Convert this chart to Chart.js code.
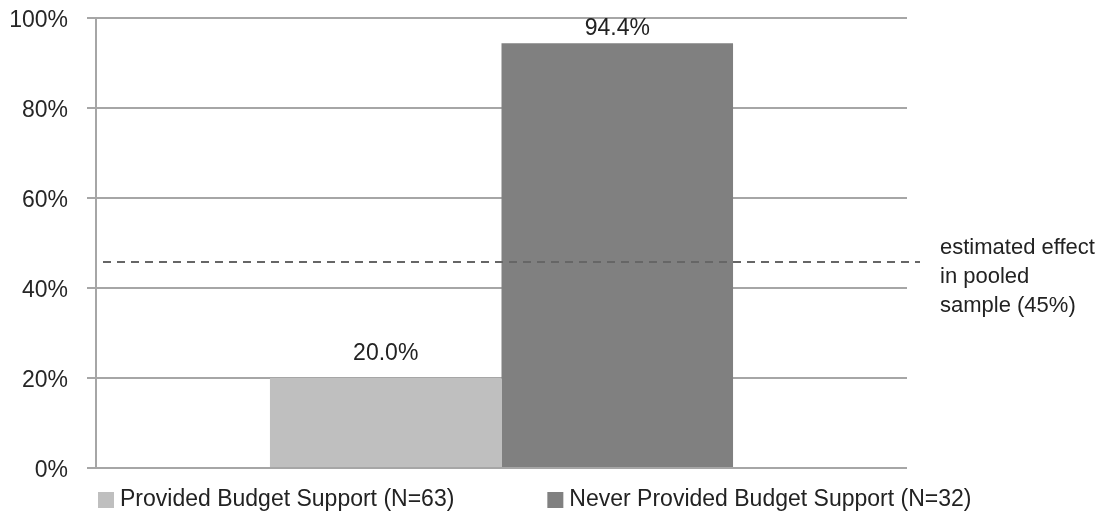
<!DOCTYPE html>
<html>
<head>
<meta charset="utf-8">
<script src="https://cdn.jsdelivr.net/npm/chart.js@4"></script>
<style>
  html, body { margin: 0; padding: 0; background: #fff; }
  #wrap { width: 1104px; height: 521px; }
</style>
</head>
<body>
<div id="wrap"><canvas id="chart"></canvas></div>
<script>
// Data
const categories = [''];
const seriesNames = ['Provided Budget Support (N=63)', 'Never Provided Budget Support (N=32)'];
const providedValues = [20.0];
const neverValues = [94.4];
const pooledEffect = [45.8];
const pooledText = ['estimated effect', 'in pooled', 'sample (45%)'];
const yTicks = [0, 20, 40, 60, 80, 100];

const FONT = "'Liberation Sans', Arial, sans-serif";

// Value labels above each bar
const barLabels = {
    id: 'barLabels',
    afterDatasetsDraw(chart) {
        const ctx = chart.ctx;
        ctx.save();
        ctx.font = '23px ' + FONT;
        ctx.fillStyle = '#222';
        ctx.textAlign = 'center';
        ctx.textBaseline = 'alphabetic';
        chart.data.datasets.forEach((ds, i) => {
            const meta = chart.getDatasetMeta(i);
            meta.data.forEach((bar, j) => {
                ctx.fillText(ds.data[j].toFixed(1) + '%', bar.x, bar.y - ds.labelOffset);
            });
        });
        ctx.restore();
    }
};

// Dashed pooled-effect line with its note on the right
const pooledLine = {
    id: 'pooledLine',
    afterDatasetsDraw(chart) {
        const ctx = chart.ctx;
        const area = chart.chartArea;
        const y = chart.scales.y.getPixelForValue(pooledEffect[0]);
        ctx.save();
        ctx.strokeStyle = '#666';
        ctx.lineWidth = 2;
        ctx.setLineDash([8, 6]);
        ctx.beginPath();
        ctx.moveTo(area.left + 7, y);
        ctx.lineTo(area.right + 13, y);
        ctx.stroke();
        ctx.setLineDash([]);
        ctx.font = '22px ' + FONT;
        ctx.fillStyle = '#222';
        ctx.textAlign = 'left';
        ctx.textBaseline = 'middle';
        pooledText.forEach((t, i) => {
            ctx.fillText(t, area.right + 33, y - 14 + i * 29);
        });
        ctx.restore();
    }
};

// Legend drawn below the plot
const bottomLegend = {
    id: 'bottomLegend',
    afterDraw(chart) {
        const ctx = chart.ctx;
        const area = chart.chartArea;
        const cy = area.bottom + 32;
        let x = area.left + 2;
        ctx.save();
        ctx.font = '23px ' + FONT;
        ctx.textBaseline = 'middle';
        ctx.textAlign = 'left';
        chart.data.datasets.forEach((ds, i) => {
            ctx.fillStyle = ds.backgroundColor;
            ctx.fillRect(x, cy - 8, 16, 16);
            ctx.fillStyle = '#222';
            ctx.fillText(ds.label, x + 22, cy);
            x += 22 + ctx.measureText(ds.label).width + 93;
        });
        ctx.restore();
    }
};

new Chart(document.getElementById('chart'), {
    type: 'bar',
    data: {
        labels: categories,
        datasets: [
            {
                label: seriesNames[0],
                data: providedValues,
                backgroundColor: '#bfbfbf',
                labelOffset: 18
            },
            {
                label: seriesNames[1],
                data: neverValues,
                backgroundColor: '#808080',
                labelOffset: 8
            }
        ]
    },
    options: {
        responsive: true,
        maintainAspectRatio: false,
        animation: false,
        categoryPercentage: 0.571,
        barPercentage: 1.0,
        layout: {
            padding: { left: 10, right: 197, top: 18, bottom: 53 }
        },
        plugins: {
            legend: { display: false },
            tooltip: { enabled: false }
        },
        scales: {
            x: { display: false },
            y: {
                min: 0,
                max: 100,
                afterBuildTicks: axis => {
                    axis.ticks = yTicks.map(v => ({ value: v }));
                },
                afterFit: axis => {
                    axis.width = 86;
                    axis.paddingTop = 0;
                    axis.paddingBottom = 0;
                },
                ticks: {
                    color: '#262626',
                    padding: 19,
                    labelOffset: 3,
                    font: { family: FONT, size: 23 },
                    callback: v => v + '%'
                },
                grid: {
                    color: '#a6a6a6',
                    lineWidth: 2,
                    tickLength: 9
                },
                border: {
                    color: '#a6a6a6',
                    width: 2
                }
            }
        }
    },
    plugins: [barLabels, pooledLine, bottomLegend]
});
</script>
</body>
</html>
